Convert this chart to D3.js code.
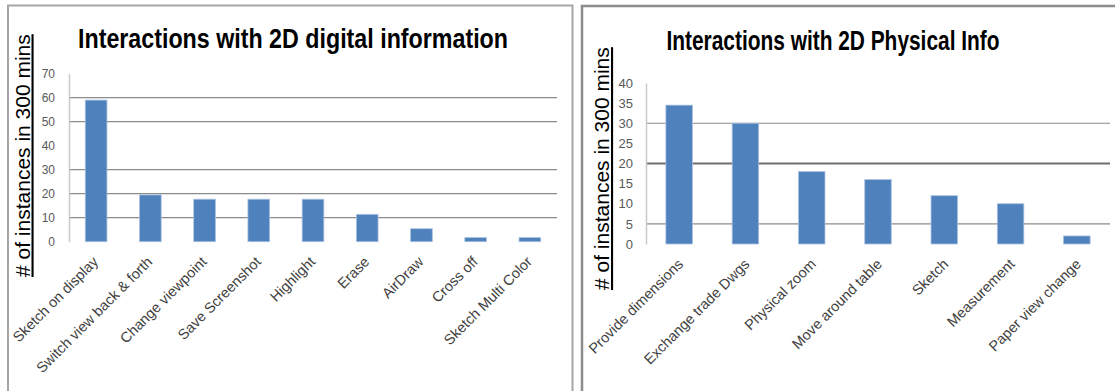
<!DOCTYPE html>
<html><head><meta charset="utf-8">
<script src="https://cdn.jsdelivr.net/npm/d3@7/dist/d3.min.js"></script>
<style>
html,body{margin:0;padding:0;background:#fff;}
svg{display:block;}
</style></head>
<body>
<svg id="chart" width="1115" height="391"></svg>
<script>
// ---- data ----
const digitalCategories = ["Sketch on display","Switch view back & forth","Change viewpoint","Save Screenshot","Highlight","Erase","AirDraw","Cross off","Sketch Multi Color"];
const digitalValues = [59, 19.5, 17.7, 17.7, 17.7, 11.4, 5.4, 1.7, 1.7];
const digitalTicks = [0, 10, 20, 30, 40, 50, 60, 70];
const digitalGridlines = [10, 20, 30, 50, 60];

const physicalCategories = ["Provide dimensions","Exchange trade Dwgs","Physical zoom","Move around table","Sketch","Measurement","Paper view change"];
const physicalValues = [34.5, 30, 18, 16, 12, 10, 2];
const physicalTicks = [0, 5, 10, 15, 20, 25, 30, 35, 40];
const physicalGridlines = [5, 30];
const physicalStrongGridlines = [20];

const titles = ["Interactions with 2D digital information", "Interactions with 2D Physical Info"];
const yAxisTitle = "# of instances in 300 mins";

// ---- drawing ----
const svg = d3.select("#chart");
const barColor = "#4F81BD";

// panel frames
svg.append("path").attr("d","M8,391 V5.5 H572.5 V391").attr("fill","none").attr("stroke","#a6a6a6").attr("stroke-width",2);
svg.append("path").attr("d","M582,391 V6 H1115").attr("fill","none").attr("stroke","#8c8c8c").attr("stroke-width",2.5);

function drawPanel(cfg){
  const g = svg.append("g");
  const x = d3.scaleBand().domain(cfg.cats).range([cfg.x0, cfg.x1]).paddingInner(0.6).paddingOuter(0.3);
  const y = d3.scaleLinear().domain([0, cfg.max]).range([cfg.y0, cfg.y1]);

  // gridlines
  g.selectAll("line.grid").data(cfg.grid).join("line")
    .attr("x1", cfg.x0).attr("x2", cfg.x1)
    .attr("y1", d => y(d)).attr("y2", d => y(d))
    .attr("stroke", "#8c8c8c").attr("stroke-width", 1.2);
  g.selectAll("line.sgrid").data(cfg.strong || []).join("line")
    .attr("x1", cfg.x0).attr("x2", cfg.x1)
    .attr("y1", d => y(d)).attr("y2", d => y(d))
    .attr("stroke", "#6e6e6e").attr("stroke-width", 2.2);

  // y axis
  const ya = d3.axisLeft(y).tickValues(cfg.ticks).tickSize(0).tickPadding(cfg.tickPad);
  const yg = g.append("g").attr("transform", `translate(${cfg.x0},0)`).call(ya);
  yg.select(".domain").attr("stroke", "#c8c8c8").attr("stroke-width", 1.5);
  yg.selectAll("text").attr("fill", "#595959").attr("font-family", "Liberation Sans, Arial, sans-serif").attr("font-size", cfg.tickSize);

  // bars
  g.selectAll("rect.bar").data(cfg.vals).join("rect")
    .attr("x", (d,i) => x(cfg.cats[i]))
    .attr("width", x.bandwidth())
    .attr("y", d => y(d))
    .attr("height", d => y(0) - y(d))
    .attr("fill", barColor)
    .attr("stroke", "#a9c1e0").attr("stroke-width", 0.8);

  // x labels
  g.selectAll("text.xl").data(cfg.cats).join("text")
    .attr("transform", d => `translate(${x(d) + x.bandwidth()/2 + cfg.lblDx},${cfg.y0 + cfg.lblDy}) rotate(-45)`)
    .attr("text-anchor", "end")
    .attr("fill", "#404040")
    .attr("font-family", "Liberation Sans, Arial, sans-serif")
    .attr("font-size", cfg.lblSize)
    .text(d => d);

  // title
  g.append("text")
    .attr("x", cfg.titleX).attr("y", cfg.titleY)
    .attr("text-anchor", "middle")
    .attr("font-family", "Liberation Sans, Arial, sans-serif")
    .attr("font-weight", "bold")
    .attr("font-size", 28)
    .attr("textLength", cfg.titleLen).attr("lengthAdjust", "spacingAndGlyphs")
    .attr("fill", "#000")
    .text(cfg.title);

  // y axis title
  g.append("text")
    .attr("transform", `translate(${cfg.yTitleX},${cfg.yTitleBottom}) rotate(-90)`)
    .attr("text-anchor", "start")
    .attr("font-family", "Liberation Sans, Arial, sans-serif")
    .attr("font-size", 21)
    .attr("text-decoration", "underline")
    .attr("fill", "#000")
    .text(yAxisTitle);
}

drawPanel({cats: digitalCategories, vals: digitalValues, ticks: digitalTicks, grid: digitalGridlines, max: 70,
  x0: 69, x1: 557, y0: 241.7, y1: 73.7, tickPad: 14, tickSize: 12, lblDx: 3, lblDy: 21, lblSize: 14.5,
  title: titles[0], titleX: 293, titleY: 48, titleLen: 430, yTitleX: 29.5, yTitleBottom: 277});

drawPanel({cats: physicalCategories, vals: physicalValues, ticks: physicalTicks, grid: physicalGridlines, strong: physicalStrongGridlines, max: 40,
  x0: 646, x1: 1110, y0: 244, y1: 83, tickPad: 13, tickSize: 13, lblDx: 5, lblDy: 21, lblSize: 14.5,
  title: titles[1], titleX: 833, titleY: 50, titleLen: 333, yTitleX: 609, yTitleBottom: 290});
</script>
</body></html>
